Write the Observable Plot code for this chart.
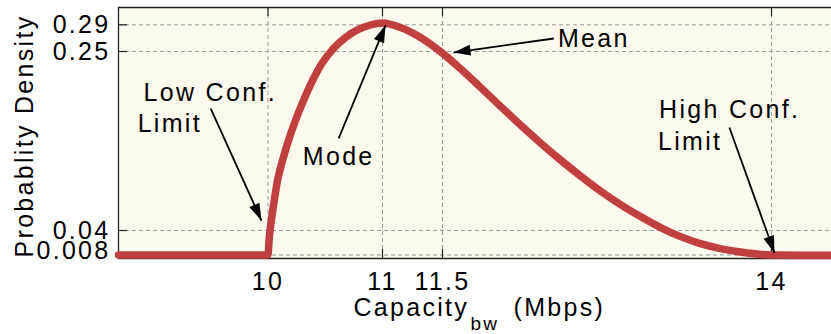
<!DOCTYPE html>
<html>
<head>
<meta charset="utf-8">
<script src="https://cdn.jsdelivr.net/npm/d3@7"></script>
<script src="https://cdn.jsdelivr.net/npm/@observablehq/plot@0.6"></script>
<style>
  html, body { margin: 0; padding: 0; background: #ffffff; }
  #chart svg text { letter-spacing: 2.3px; }
</style>
</head>
<body>
<div id="chart"></div>
<script>
// ---- data ----
const xTicks = [10, 11, 11.5, 14];
const yTicks = [0.008, 0.04, 0.25, 0.29];
const yTickLabels = ["0.008", "0.04", "0.25", "0.29"];

const capacity = [9.0, 10.0, 10.009, 10.022, 10.048, 10.083, 10.127, 10.179, 10.24, 10.31, 10.389, 10.476,
  10.572, 10.677, 10.79, 10.895, 11.0,
  11.15, 11.317, 11.5, 11.637, 11.789, 11.941, 12.093, 12.245, 12.397, 12.549, 12.70, 12.853, 13.005,
  13.157, 13.309, 13.46, 13.612, 13.764, 14.0, 14.24, 14.5];
const density = [0.008, 0.008, 0.0269, 0.0447, 0.0693, 0.0987, 0.1221, 0.1456, 0.1691, 0.1925, 0.216, 0.2371,
  0.2545, 0.271, 0.283, 0.2897, 0.2921,
  0.286, 0.271, 0.2479, 0.2297, 0.2079, 0.1856, 0.1638, 0.1427, 0.1227, 0.1039, 0.0863, 0.0704, 0.0563,
  0.0434, 0.032, 0.0229, 0.0164, 0.0119, 0.008, 0.0075, 0.0075];

const annotationText = ["Low Conf.", "Limit", "Mode", "Mean", "High Conf.", "Limit"];
const annotationX = [9.168, 9.128, 10.304, 12.377, 13.146, 13.138];
const annotationY = [0.1925, 0.155, 0.1163, 0.256, 0.1714, 0.1339];

const arrowFromX = [9.617, 10.617, 12.346, 13.68];
const arrowFromY = [0.183, 0.148, 0.2695, 0.1608];
const arrowToX = [9.956, 11.025, 11.584, 14.025];
const arrowToY = [0.0517, 0.289, 0.2488, 0.0107];

const yLabel = "Probablity Density";
const xLabelMain = "Capacity";
const xLabelSub = "bw";
const xLabelUnit = "(Mbps)";

// ---- tables built from the arrays ----
const curve = capacity.map((c, i) => ({c, d: density[i]}));
const notes = annotationText.map((t, i) => ({t, x: annotationX[i], y: annotationY[i]}));
const arrows = arrowFromX.map((x1, i) => ({x1, y1: arrowFromY[i], x2: arrowToX[i], y2: arrowToY[i]}));

// schematic (piecewise) scales, as in the original figure
const xOpts = {type: "linear", domain: [9, 10, 11, 11.5, 14, 14.5], range: [118, 267.5, 382, 442, 771, 831], axis: null};
const yOpts = {type: "linear", domain: [0, 0.008, 0.04, 0.25, 0.29, 0.31], range: [258, 254.5, 230, 51, 24.3, 7], axis: null};

const sx = Plot.scale({x: xOpts});
const sy = Plot.scale({y: yOpts});
const headAngle = d => {
  const dx = sx.apply(d.x2) - sx.apply(d.x1);
  const dy = sy.apply(d.y2) - sy.apply(d.y1);
  return Math.atan2(dx, -dy) * 180 / Math.PI;
};
const headSymbol = {
  draw(context) {
    context.moveTo(0, 0);
    context.lineTo(-5.5, 17);
    context.lineTo(5.5, 17);
    context.closePath();
  }
};

const FONT = 25;
const red = "#c0403f";
const gridColor = "#9a9a9a";
const axisColor = "#222222";

const chart = Plot.plot({
  width: 831,
  height: 334,
  marginLeft: 118,
  marginRight: 0,
  marginTop: 7,
  marginBottom: 76,
  style: {fontFamily: "'Liberation Sans', Arial, Helvetica, sans-serif", fontSize: "25px", background: "#ffffff", overflow: "visible"},
  x: xOpts,
  y: yOpts,
  marks: [
    Plot.frame({fill: "#fdf9ee", stroke: null}),
    // dashed grid
    Plot.ruleX(xTicks, {x: d => d, stroke: gridColor, strokeWidth: 1, strokeDasharray: "4,3"}),
    Plot.ruleY(yTicks, {y: d => d, stroke: gridColor, strokeWidth: 1, strokeDasharray: "4,3"}),
    // box
    Plot.ruleY([0], {stroke: axisColor, strokeWidth: 1.3}),
    Plot.ruleY([0.31], {stroke: axisColor, strokeWidth: 1.3}),
    Plot.ruleX([9], {stroke: axisColor, strokeWidth: 1.3}),
    // inward ticks
    Plot.ruleX(xTicks, {x: d => d, insetTop: 242, stroke: axisColor, strokeWidth: 1.2}),
    Plot.ruleX(xTicks, {x: d => d, insetBottom: 242, stroke: axisColor, strokeWidth: 1.2}),
    Plot.ruleY(yTicks, {y: d => d, insetRight: 704, stroke: axisColor, strokeWidth: 1.2}),
    // density curve
    Plot.line(curve, {x: "c", y: "d", stroke: red, strokeWidth: 7.5, curve: "monotone-x", strokeLinejoin: "round"}),
    // arrows
    Plot.link(arrows, {x1: "x1", y1: "y1", x2: "x2", y2: "y2", stroke: "black", strokeWidth: 1.8}),
    Plot.dot(arrows, {x: "x2", y: "y2", r: 5, symbol: headSymbol, fill: "black", stroke: null, rotate: headAngle}),
    // annotations
    Plot.text(notes, {x: "x", y: "y", text: "t", textAnchor: "start", lineAnchor: "bottom", fontSize: FONT, fill: "black"}),
    // y tick labels
    Plot.text(yTicks.slice(1), {y: d => d, text: (d, i) => yTickLabels[i + 1], frameAnchor: "left", dx: -8, textAnchor: "end", lineAnchor: "middle", fontSize: FONT, fill: "black"}),
    Plot.text(yTicks.slice(0, 1), {y: d => d, text: (d, i) => yTickLabels[i], frameAnchor: "left", dx: -8, dy: -4, textAnchor: "end", lineAnchor: "middle", fontSize: FONT, fill: "black"}),
    // x tick labels
    Plot.text(xTicks, {x: d => d, text: d => String(d), frameAnchor: "bottom", dy: 14, lineAnchor: "top", fontSize: FONT, fill: "black"}),
    // axis titles
    Plot.text([yLabel], {text: d => d, frameAnchor: "left", dx: -94, dy: 3, rotate: -90, textAnchor: "middle", lineAnchor: "middle", fontSize: FONT, fill: "black"}),
    Plot.text([xLabelMain], {text: d => d, frameAnchor: "bottom-left", dx: 235, dy: 57, textAnchor: "start", lineAnchor: "bottom", fontSize: FONT, fill: "black"}),
    Plot.text([xLabelSub], {text: d => d, frameAnchor: "bottom-left", dx: 352, dy: 71, textAnchor: "start", lineAnchor: "bottom", fontSize: 19, fill: "black"}),
    Plot.text([xLabelUnit], {text: d => d, frameAnchor: "bottom-left", dx: 395, dy: 57, textAnchor: "start", lineAnchor: "bottom", fontSize: FONT, fill: "black"})
  ]
});
document.getElementById("chart").appendChild(chart);
</script>
</body>
</html>
